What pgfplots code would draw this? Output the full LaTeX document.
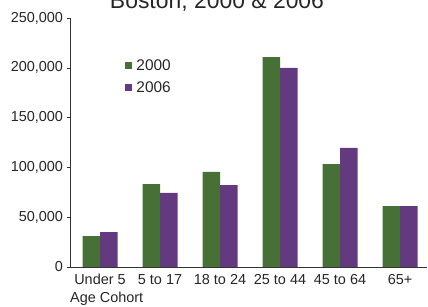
\documentclass[border=0pt]{standalone}
\usepackage{fontspec}
\setmainfont{Liberation Sans}
\usepackage{pgfplots}
\pgfplotsset{compat=1.18}
\definecolor{g1}{RGB}{71,112,55}
\definecolor{p1}{RGB}{99,58,128}
\begin{document}
\begin{tikzpicture}
\useasboundingbox (0,0) rectangle (428bp,307bp);
\node[font=\fontsize{23}{26}\selectfont, anchor=base, text=black!85] at (217bp,298bp) {Boston, 2000 \& 2006};
\begin{axis}[
  at={(70bp,40bp)}, anchor=south west,
  scale only axis, width=357bp, height=249bp,
  ybar=0pt, bar width=17.5bp,
  xmin=-0.5, xmax=5.45,
  ymin=0, ymax=250000,
  axis x line*=bottom, axis y line*=left,
  axis line style={black!80, line width=0.9pt},
  xtick={0,1,2,3,4,5},
  xticklabels={Under 5, 5 to 17, 18 to 24, 25 to 44, 45 to 64, 65+},
  xtick style={draw=none},
  ytick={0,50000,100000,150000,200000,250000},
  scaled y ticks=false,
  yticklabel style={/pgf/number format/fixed, /pgf/number format/1000 sep={,}, /pgf/number format/assume math mode=true, xshift=-0.5bp},
  ytick style={black!80, line width=0.6pt},
  tick align=outside, major tick length=3bp,
  ticklabel style={font=\fontsize{14.5}{16}\selectfont, text=black!85},
  xticklabel style={yshift=-1bp},
  xlabel={Age Cohort},
  xlabel style={at={(rel axis cs:0,0)}, anchor=north west, yshift=-22bp, font=\fontsize{14.5}{16}\selectfont, text=black!85, inner xsep=0pt},
  legend style={at={(0.152,0.845)}, anchor=north west, draw=none, fill=none, font=\fontsize{15.5}{17}\selectfont, text=black!85, row sep=5.5bp, inner sep=1bp,
    nodes={inner xsep=4bp}},
  legend image code/.code={\fill[#1] (0bp,-3.5bp) rectangle (7bp,3.5bp);},
  legend cell align=left,
]
\addplot[fill=g1, draw=none] coordinates {(0,31100) (1,83300) (2,95400) (3,210800) (4,103400) (5,61200)};
\addplot[fill=p1, draw=none] coordinates {(0,35100) (1,74300) (2,82300) (3,199800) (4,119500) (5,61200)};
\legend{2000, 2006}
\end{axis}
\end{tikzpicture}
\end{document}
